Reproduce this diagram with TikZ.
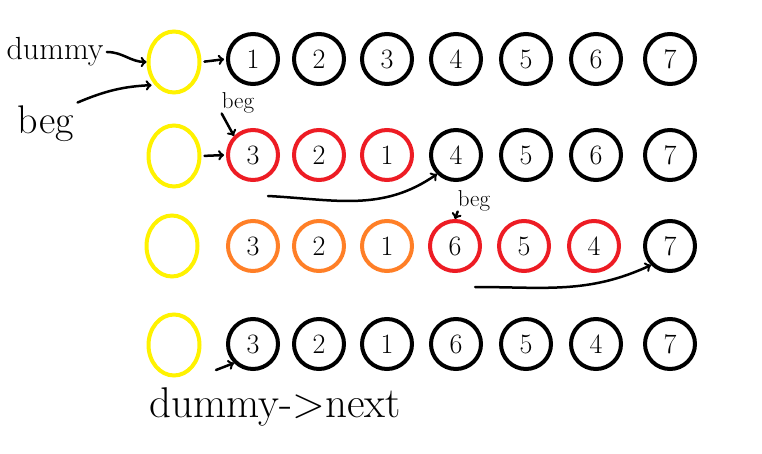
\documentclass[tikz,border=0pt]{standalone}
\usetikzlibrary{shapes.geometric}
\definecolor{pred}{HTML}{ED1C24}
\definecolor{porange}{HTML}{FF7F27}
\definecolor{pyellow}{HTML}{FFF200}
\begin{document}
\begin{tikzpicture}[x=1pt, y=-1pt]
		\tikzset{nd/.style={circle, draw=black, line width=4pt, minimum size=50pt, inner sep=0pt, font=\fontsize{28}{28}\selectfont}};
		\tikzset{dm/.style={ellipse, draw=pyellow, line width=4pt, minimum width=51pt, minimum height=61pt}};
		\tikzset{lbl/.style={font=\fontsize{32}{32}\selectfont}};
		\tikzset{sml/.style={font=\fontsize{23}{23}\selectfont, inner sep=0pt}};
		\tikzset{ar/.style={->, line width=2.5pt, line cap=round}};

		\useasboundingbox (0,0) rectangle (762,454);

		\node[lbl] (dummy) at (55, 52) {dummy};
		\node[lbl, font=\fontsize{40}{40}\selectfont] (beg) at (46, 124) {beg};
		\node[lbl, font=\fontsize{43}{43}\selectfont] (dnext) at (275, 407) {dummy->next};

		\node[dm] (y1) at (174, 62) {};
		\node[nd] (11) at (253, 59) {1};
		\node[nd] (12) at (319, 59) {2};
		\node[nd] (13) at (387, 59) {3};
		\node[nd] (14) at (456, 59) {4};
		\node[nd] (15) at (526, 59) {5};
		\node[nd] (16) at (596, 59) {6};
		\node[nd] (17) at (670, 59) {7};

		\node[dm] (y2) at (174, 156) {};
		\node[nd, draw=pred] (21) at (253, 155) {3};
		\node[nd, draw=pred] (22) at (319, 155) {2};
		\node[nd, draw=pred] (23) at (387, 155) {1};
		\node[nd] (24) at (456, 155) {4};
		\node[nd] (25) at (526, 155) {5};
		\node[nd] (26) at (596, 155) {6};
		\node[nd] (27) at (670, 155) {7};

		\node[dm] (y3) at (172, 246) {};
		\node[nd, draw=porange] (31) at (253, 246) {3};
		\node[nd, draw=porange] (32) at (319, 246) {2};
		\node[nd, draw=porange] (33) at (387, 246) {1};
		\node[nd, draw=pred] (34) at (455, 246) {6};
		\node[nd, draw=pred] (35) at (524, 246) {5};
		\node[nd, draw=pred] (36) at (594, 246) {4};
		\node[nd] (37) at (670, 246) {7};

		\node[dm] (y4) at (174, 345) {};
		\node[nd] (41) at (253, 344) {3};
		\node[nd] (42) at (319, 344) {2};
		\node[nd] (43) at (387, 344) {1};
		\node[nd] (44) at (456, 344) {6};
		\node[nd] (45) at (526, 344) {5};
		\node[nd] (46) at (596, 344) {4};
		\node[nd] (47) at (670, 344) {7};

		\node[sml] (beg2) at (238, 103) {beg};
		\node[sml] (beg3) at (474, 201) {beg};

		\coordinate (c2) at (268, 196);
		\coordinate (c3) at (475, 287);
		\coordinate (c4) at (216, 370);

		\draw[ar] (dummy.east) to[out=0, in=180] (y1.west);
		\draw[ar, shorten >=3pt] (beg.north east) to[bend left=10] (y1.south west);
		\draw[ar, shorten <=3pt, shorten >=2pt] (y1.east) to (11.west);
		\draw[ar, shorten <=3pt, shorten >=2pt] (y2.east) to (21.west);

		\draw[ar] (beg2.south west) to (21.north west);
		\draw[ar] (c2) to[out=-3, in=215] (24.south west);

		\draw[ar] (beg3.south west) to (34.north);
		\draw[ar] (c3) to[out=0, in=205] (37.south west);

		\draw[ar] (c4) to (41.south west);

\end{tikzpicture}
\end{document}
